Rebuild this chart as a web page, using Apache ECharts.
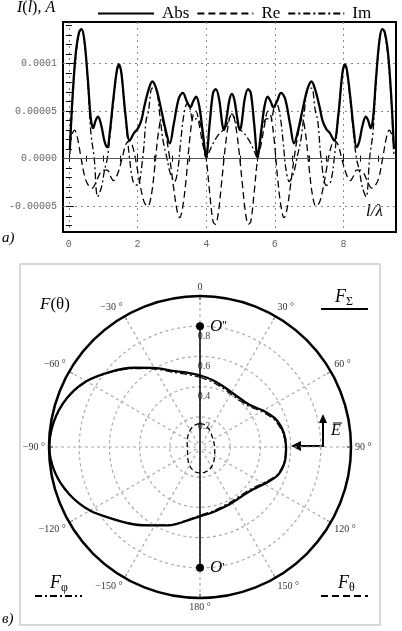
<!DOCTYPE html>
<html>
<head>
<meta charset="utf-8">
<script src="https://cdn.jsdelivr.net/npm/echarts@6/dist/echarts.min.js"></script>
<style>
html, body { margin: 0; padding: 0; background: #fff; }
#chart { width: 402px; height: 631px; }
</style>
</head>
<body>
<div id="chart"></div>
<script>
// --- (a) current distribution along the wire, values in 1e-5 A ---
var absL = [0.03,0.1,0.2,0.3,0.37,0.45,0.55,0.64,0.71,0.78,0.85,0.95,1.04,1.12,1.2,1.3,1.4,1.46,1.53,1.65,1.77,1.9,2.0,2.11,2.2,2.32,2.43,2.55,2.7,2.82,2.94,3.05,3.2,3.32,3.44,3.54,3.62,3.71,3.8,3.9,4.0,4.1,4.2,4.28,4.38,4.47,4.52,4.6,4.68,4.75,
  4.82,4.9,4.98,5.03,5.12,5.22,5.3,5.4,5.5,5.6,5.7,5.79,5.88,5.96,6.06,6.18,6.3,6.45,6.56,6.68,6.8,6.95,7.07,7.18,7.3,7.39,7.5,7.6,7.73,7.85,7.97,8.04,8.1,8.2,8.3,8.38,8.46,8.55,8.65,8.72,8.79,8.86,8.95,9.05,9.13,9.2,9.3,9.4,9.47]
var absV = [1.0,6.0,11.0,13.3,13.6,12.5,8.5,4.2,3.2,4.0,4.4,3.4,1.8,1.2,3.0,6.4,9.3,9.9,9.0,4.6,1.9,2.7,3.1,4.0,5.5,7.2,8.1,7.3,5.0,3.0,1.6,3.5,6.3,6.9,6.0,5.4,6.0,6.5,5.5,2.8,0.2,3.6,6.9,7.3,6.2,3.6,3.0,4.4,6.2,6.8,
  6.2,4.4,3.0,3.6,6.2,7.3,6.9,3.6,0.2,2.8,5.5,6.5,6.0,5.4,6.0,6.9,6.3,3.5,1.6,3.0,5.0,7.3,8.1,7.2,5.5,4.0,3.1,2.7,1.9,4.6,9.0,9.9,9.3,6.4,3.0,1.2,1.8,3.4,4.4,4.0,3.2,4.2,8.5,12.5,13.6,13.3,11.0,6.0,1.0]

var reL = [0.03,0.1,0.17,0.25,0.36,0.47,0.57,0.68,0.8,0.9,1.0,1.12,1.22,1.3,1.42,1.55,1.66,1.77,1.88,2.0,2.1,2.2,2.3,2.4,2.5,2.6,2.7,2.8,2.94,3.05,3.15,3.23,3.32,3.42,3.52,3.62,3.7,3.8,3.9,4.0,4.1,4.2,4.27,4.35,4.45,4.52,4.6,4.68,4.75,
  4.82,4.9,4.98,5.05,5.15,5.23,5.3,5.4,5.5,5.6,5.7,5.8,5.88,5.98,6.08,6.18,6.27,6.35,6.45,6.56,6.7,6.8,6.9,7.0,7.1,7.2,7.3,7.4,7.5,7.62,7.73,7.84,7.95,8.08,8.2,8.28,8.38,8.5,8.6,8.7,8.82,8.93,9.03,9.14,9.25,9.33,9.4,9.47]
var reV = [1.5,2.6,3.0,2.2,0,-2.0,-2.8,-3.1,-2.4,-1.6,-1.2,-1.2,-1.9,-2.3,-1.6,0,1.5,1.9,1.0,-1.2,-3.2,-4.6,-5.0,-3.9,-1.0,2.5,4.2,3.0,0,-3.0,-5.4,-6.2,-5.0,-2.0,2.0,4.6,5.0,3.5,1.5,0,-3.5,-6.6,-6.9,-5.8,-2.5,0,2.5,4.2,4.7,
  4.2,2.5,0,-2.5,-5.8,-6.9,-6.6,-3.5,0,1.5,3.5,5.0,4.6,2.0,-2.0,-5.0,-6.2,-5.4,-3.0,0,3.0,4.2,2.5,-1.0,-3.9,-5.0,-4.6,-3.2,-1.2,1.0,1.9,1.5,0,-1.6,-2.3,-1.9,-1.2,-1.2,-1.6,-2.4,-3.1,-2.8,-2.0,0,2.2,3.0,2.6,1.5]

var imL = [0.03,0.1,0.2,0.3,0.37,0.45,0.55,0.64,0.74,0.84,0.95,1.04,1.12,1.2,1.3,1.4,1.46,1.53,1.65,1.77,1.88,2.0,2.15,2.25,2.32,2.43,2.55,2.65,2.74,2.86,2.96,3.08,3.18,3.25,3.35,3.45,3.52,3.62,3.72,3.82,3.92,4.0,4.1,4.2,4.3,4.4,4.5,4.6,4.68,4.75,
  4.82,4.9,5.0,5.1,5.2,5.3,5.4,5.5,5.58,5.68,5.78,5.88,5.98,6.05,6.15,6.25,6.32,6.42,6.54,6.64,6.76,6.85,6.95,7.07,7.18,7.25,7.35,7.5,7.62,7.73,7.85,7.97,8.04,8.1,8.2,8.3,8.38,8.46,8.55,8.66,8.76,8.86,8.95,9.05,9.13,9.2,9.3,9.4,9.47]
var imV = [0.5,5.4,10.6,13.2,13.6,12.4,8.0,2.8,0,-4.0,-3.0,-1.2,0,2.4,6.0,9.1,9.8,9.0,4.4,0,-2.5,-2.8,0,4.0,5.0,7.4,7.2,4.6,2.0,0,-1.6,-2.4,-1.0,1.5,4.6,5.8,5.4,4.0,4.2,3.8,2.0,0,0.8,1.6,2.2,2.7,3.0,3.5,4.3,4.7,
  4.3,3.5,3.0,2.7,2.2,1.6,0.8,0,2.0,3.8,4.2,4.0,5.4,5.8,4.6,1.5,-1.0,-2.4,-1.6,0,2.0,4.6,7.2,7.4,5.0,4.0,0,-2.8,-2.5,0,4.4,9.0,9.8,9.1,6.0,2.4,0,-1.2,-3.0,-4.0,0,2.8,8.0,12.4,13.6,13.2,10.6,5.4,0.5]

// tick positions of panel (a)
var xMajor = [0, 2, 4, 6, 8]
var yMajor = [-5e-5, 5e-5, 1e-4]
var yLabelValues = [-5e-5, 0, 5e-5, 1e-4]
var yLabelText = ['-0.00005', '0.0000', '0.00005', '0.0001']

// --- (в) radiation patterns, angle in degrees clockwise from the top ---
var theta = [0,10,20,30,40,50,60,70,80,90,100,110,120,130,140,150,160,170,180,190,200,210,220,230,240,250,260,270,280,290,300,310,320,330,340,350,360]
var fSum = [0.475,0.452,0.432,0.418,0.417,0.432,0.482,0.535,0.562,0.570,0.570,0.548,0.490,0.445,0.428,0.426,0.430,0.442,0.459,0.495,0.550,0.600,0.670,0.745,0.842,0.920,0.975,0.998,0.982,0.940,0.870,0.775,0.685,0.605,0.537,0.500,0.475]
var fPhi = [0.462,0.440,0.420,0.406,0.405,0.420,0.470,0.525,0.555,0.566,0.566,0.542,0.480,0.435,0.418,0.416,0.421,0.434,0.452,0.490,0.546,0.597,0.667,0.742,0.840,0.918,0.974,0.997,0.980,0.937,0.866,0.770,0.678,0.596,0.527,0.488,0.462]
var fTheta = [0.155,0.152,0.142,0.128,0.115,0.106,0.100,0.097,0.096,0.097,0.099,0.104,0.112,0.123,0.138,0.152,0.164,0.170,0.172,0.168,0.156,0.140,0.122,0.106,0.095,0.088,0.085,0.084,0.086,0.090,0.097,0.106,0.118,0.130,0.142,0.151,0.155]

var serif = '"Liberation Serif", "DejaVu Serif", serif'
var mono = '"Liberation Mono", "DejaVu Sans Mono", monospace'

function pairs(xs, ys) {
  return xs.map(function(x, i) { return [x, ys[i] * 1e-5] })
}
function polarPairs(vals) {
  return vals.map(function(v, i) { return [v, theta[i]] })
}
// minor tick positions
var xMinor = []
for (var i = 0; i <= 19; i++) xMinor.push(i * 0.5)
var yMinor = []
for (var j = -7; j <= 14; j++) yMinor.push(j * 1e-5)

function minorX(pos) {
  return {
    type: 'value', position: pos, min: -0.17, max: 9.53,
    axisLine: { show: false },
    axisTick: { inside: true, length: 3, customValues: xMinor, lineStyle: { color: '#000' } },
    axisLabel: { show: false },
    splitLine: { show: false }
  }
}
function minorY(pos) {
  return {
    type: 'value', position: pos, min: -7.7e-5, max: 1.435e-4,
    axisLine: { show: false },
    axisTick: { inside: true, length: 3, customValues: yMinor, lineStyle: { color: '#000' } },
    axisLabel: { show: false },
    splitLine: { show: false }
  }
}

var myChart = echarts.init(document.getElementById('chart'))
var option = {
  animation: false,
  legend: {
    top: 0,
    left: 92,
    itemWidth: 56,
    itemHeight: 16,
    itemGap: 7,
    itemStyle: { opacity: 0 },
    textStyle: { fontFamily: serif, fontSize: 17, color: '#000', padding: [0, 0, 0, 3] },
    data: ['Abs', 'Re', 'Im']
  },
  grid: {
    left: 63, top: 22, right: 6, bottom: 399,
    show: true, borderColor: '#000', borderWidth: 2
  },
  xAxis: [{
    type: 'value', min: -0.17, max: 9.53,
    axisLine: { show: false },
    axisTick: { inside: true, length: 5, customValues: xMajor, lineStyle: { color: '#000' } },
    axisLabel: { margin: 7, fontFamily: mono, fontSize: 10, color: '#666', customValues: xMajor },
    splitLine: { show: true, lineStyle: { color: '#888', type: [2, 4], width: 1 } }
  }, minorX('bottom'), minorX('top')],
  yAxis: [{
    type: 'value', min: -7.7e-5, max: 1.435e-4,
    axisLine: { show: false },
    axisTick: { inside: true, length: 5, customValues: yMajor, lineStyle: { color: '#000' } },
    axisLabel: {
      margin: 6, fontFamily: mono, fontSize: 10, color: '#666', customValues: yLabelValues,
      formatter: function(v) {
        for (var k = 0; k < yLabelValues.length; k++) {
          if (Math.abs(v - yLabelValues[k]) < 1e-9) return yLabelText[k]
        }
        return ''
      }
    },
    splitLine: { show: true, lineStyle: { color: '#888', type: [2, 4], width: 1 } }
  }, minorY('left'), minorY('right')],
  polar: { center: [200, 447], radius: 151 },
  angleAxis: {
    type: 'value', min: 0, max: 360, interval: 30,
    startAngle: 90, clockwise: true,
    axisLine: { lineStyle: { color: '#000', width: 2.5 } },
    axisTick: { inside: true, length: 4, lineStyle: { color: '#000' } },
    axisLabel: {
      margin: 4, fontFamily: serif, fontSize: 10, color: '#333',
      formatter: function(v) {
        if (v === 0 || v === 360) return '0'
        if (v <= 180) return v + ' °'
        return '\u2212' + (360 - v) + ' °'
      }
    },
    splitLine: { show: true, lineStyle: { color: '#aaa', type: [3, 3], width: 1.2 } }
  },
  radiusAxis: {
    type: 'value', min: 0, max: 1, interval: 0.2,
    axisLine: { show: false },
    axisTick: { show: false },
    axisLabel: {
      margin: -4, fontFamily: serif, fontSize: 10, color: '#444',
      align: 'center', verticalAlign: 'top', padding: [5, 0, 0, 0],
      formatter: function(v) { return (v > 0.01 && v < 0.99) ? v.toFixed(1) : '' }
    },
    splitLine: { show: true, lineStyle: { color: '#aaa', type: [3, 3], width: 1.2 } }
  },
  series: [
    {
      name: 'Abs', type: 'line', xAxisIndex: 0, yAxisIndex: 0,
      data: pairs(absL, absV), smooth: 0.35, symbol: 'none',
      lineStyle: { color: '#000', width: 2.3 },
      itemStyle: { color: '#000' },
      z: 5,
      markLine: {
        silent: true, symbol: 'none', label: { show: false },
        lineStyle: { color: '#555', type: 'solid', width: 1 },
        data: [{ yAxis: 0 }]
      }
    },
    {
      name: 'Re', type: 'line', xAxisIndex: 0, yAxisIndex: 0,
      data: pairs(reL, reV), smooth: 0.35, symbol: 'none',
      lineStyle: { color: '#000', width: 1.3, type: [7, 4] },
      itemStyle: { color: '#000' }
    },
    {
      name: 'Im', type: 'line', xAxisIndex: 0, yAxisIndex: 0,
      data: pairs(imL, imV), smooth: 0.35, symbol: 'none',
      lineStyle: { color: '#000', width: 1.3, type: [7, 3, 2, 3] },
      itemStyle: { color: '#000' }
    },
    {
      name: 'F_sum', type: 'line', coordinateSystem: 'polar',
      data: polarPairs(fSum), smooth: 0.3, symbol: 'none',
      lineStyle: { color: '#000', width: 2.3 }, z: 5
    },
    {
      name: 'F_phi', type: 'line', coordinateSystem: 'polar',
      data: polarPairs(fPhi), smooth: 0.3, symbol: 'none',
      lineStyle: { color: '#000', width: 1.2, type: [7, 3, 2, 3] }
    },
    {
      name: 'F_theta', type: 'line', coordinateSystem: 'polar',
      data: polarPairs(fTheta), smooth: 0.3, symbol: 'none',
      lineStyle: { color: '#000', width: 1.3, type: [5, 3] }
    },
    {
      // wire axis O'' - O'
      name: 'wire', type: 'line', coordinateSystem: 'polar',
      symbol: 'circle', symbolSize: 8,
      lineStyle: { color: '#000', width: 1.5 },
      itemStyle: { color: '#000' },
      data: [
        { value: [0.8, 0], label: { show: true, position: 'right', distance: 6, formatter: '{i|O}\'\'', rich: { i: { fontFamily: serif, fontStyle: 'italic', fontSize: 17 } }, fontFamily: serif, fontSize: 12, color: '#000' } },
        { value: [0, 0], symbol: 'none' },
        { value: [0.8, 180], label: { show: true, position: 'right', distance: 6, formatter: '{i|O}\'', rich: { i: { fontFamily: serif, fontStyle: 'italic', fontSize: 17 } }, fontFamily: serif, fontSize: 12, color: '#000' } }
      ]
    }
  ],
  graphic: [
    { type: 'text', left: 17, top: 0, style: { text: '{i|I}({i|l}), {i|A}', rich: { i: { fontStyle: 'italic', fontFamily: serif, fontSize: 16 } }, fontFamily: serif, fontSize: 16, fill: '#000' } },
    { type: 'text', left: 366, top: 203, style: { text: 'l/λ', fontFamily: serif, fontStyle: 'italic', fontSize: 17, fill: '#000' } },
    { type: 'text', left: 2, top: 231, style: { text: 'a)', fontFamily: serif, fontStyle: 'italic', fontSize: 15, fill: '#000' } },
    { type: 'rect', shape: { x: 20, y: 264, width: 360, height: 361 }, style: { fill: 'none', stroke: '#d8d8d8', lineWidth: 2 } },
    { type: 'text', left: 40, top: 296, style: { text: '{i|F}(θ)', rich: { i: { fontStyle: 'italic', fontFamily: serif, fontSize: 17 } }, fontFamily: serif, fontSize: 17, fill: '#000' } },
    { type: 'text', left: 335, top: 288, style: { text: '{i|F}{s|Σ}', rich: { i: { fontStyle: 'italic', fontFamily: serif, fontSize: 18 }, s: { fontFamily: serif, fontSize: 12, padding: [10, 0, 0, 0] } }, fill: '#000' } },
    { type: 'line', shape: { x1: 321, y1: 309, x2: 368, y2: 309 }, style: { stroke: '#000', lineWidth: 2 } },
    { type: 'text', left: 50, top: 574, style: { text: '{i|F}{s|φ}', rich: { i: { fontStyle: 'italic', fontFamily: serif, fontSize: 18 }, s: { fontFamily: serif, fontSize: 12, padding: [10, 0, 0, 0] } }, fill: '#000' } },
    { type: 'line', shape: { x1: 35, y1: 596, x2: 82, y2: 596 }, style: { stroke: '#000', lineWidth: 2, lineDash: [7, 3, 2, 3] } },
    { type: 'text', left: 338, top: 574, style: { text: '{i|F}{s|θ}', rich: { i: { fontStyle: 'italic', fontFamily: serif, fontSize: 18 }, s: { fontFamily: serif, fontSize: 12, padding: [10, 0, 0, 0] } }, fill: '#000' } },
    { type: 'line', shape: { x1: 321, y1: 596, x2: 368, y2: 596 }, style: { stroke: '#000', lineWidth: 2, lineDash: [7, 4] } },
    { type: 'text', left: 2, top: 612, style: { text: 'в)', fontFamily: serif, fontStyle: 'italic', fontSize: 15, fill: '#000' } },
    // E-field arrows
    { type: 'line', shape: { x1: 323, y1: 446, x2: 323, y2: 421 }, style: { stroke: '#000', lineWidth: 2 } },
    { type: 'polygon', shape: { points: [[323, 414], [319, 423], [327, 423]] }, style: { fill: '#000' } },
    { type: 'line', shape: { x1: 324, y1: 446, x2: 298, y2: 446 }, style: { stroke: '#000', lineWidth: 2 } },
    { type: 'polygon', shape: { points: [[291, 446], [301, 441], [301, 451]] }, style: { fill: '#000' } },
    { type: 'text', left: 331, top: 423, style: { text: 'E', fontFamily: serif, fontStyle: 'italic', fontSize: 16, fill: '#000' } },
    { type: 'line', shape: { x1: 333, y1: 423, x2: 342, y2: 423 }, style: { stroke: '#000', lineWidth: 1 } }
  ]
}
myChart.setOption(option)
window.addEventListener('resize', function() {
  myChart.resize()
})
</script>
</body>
</html>
